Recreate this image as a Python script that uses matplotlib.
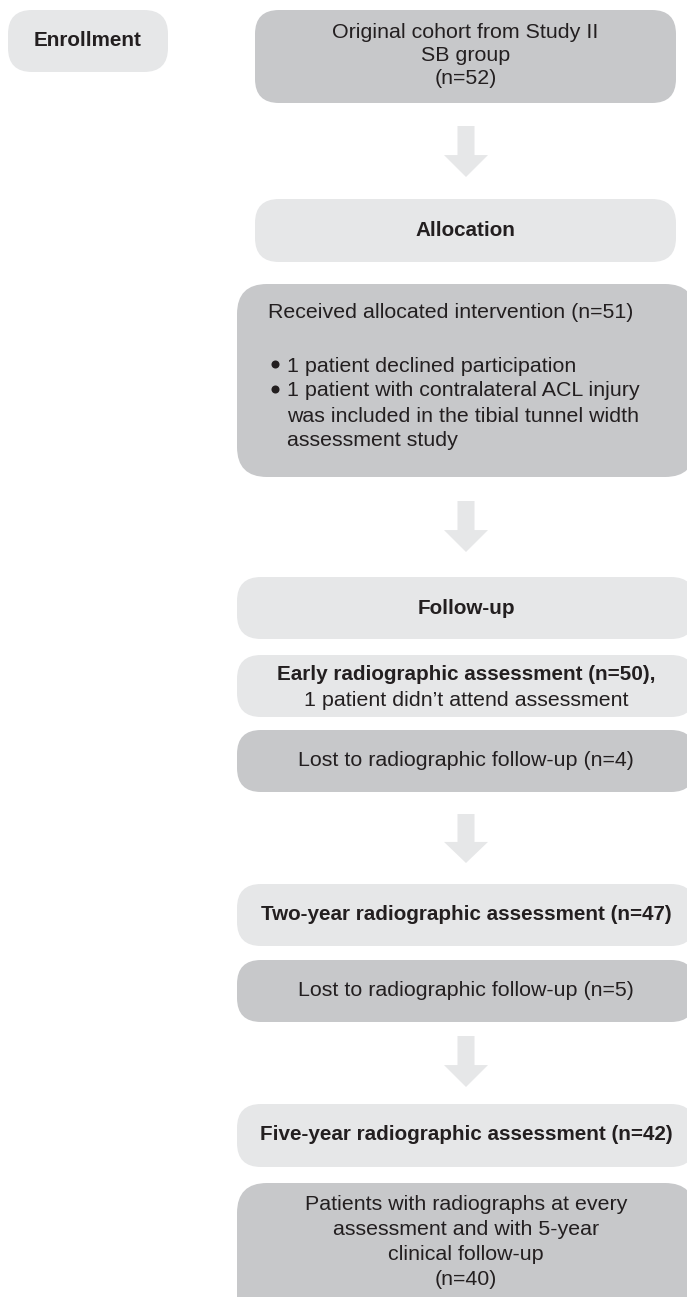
import matplotlib
matplotlib.use("Agg")
import matplotlib.pyplot as plt
from matplotlib.patches import FancyBboxPatch, Polygon

plt.rcParams['font.family'] = ['Liberation Sans', 'DejaVu Sans']

# ---- content ----
stage_label = "Enrollment"
box_texts = [
    "Original cohort from Study II\nSB group\n(n=52)",
    "Allocation",
    "Received allocated intervention (n=51)",
    "Follow-up",
    "Early radiographic assessment (n=50),\n1 patient didn\u2019t attend assessment",
    "Lost to radiographic follow-up (n=4)",
    "Two-year radiographic assessment (n=47)",
    "Lost to radiographic follow-up (n=5)",
    "Five-year radiographic assessment (n=42)",
    "Patients with radiographs at every\nassessment and with 5-year\nclinical follow-up\n(n=40)",
]
bullets = [
    "1 patient declined participation",
    "1 patient with contralateral ACL injury\nwas included in the tibial tunnel width\nassessment study",
]

# ---- layout (pixels) ----
W, H = 687, 1297
DARK = "#C7C8CA"
LIGHT = "#E6E7E8"
TXT = "#231F20"
FS = 15.4      # regular text
FSB = 14.9     # bold text

# (left, top, right, bottom, fill, bold, first line y, line step)
layout = [
    (255, 10, 676, 103, DARK, False, 32, 23.5),
    (255, 199, 676, 262, LIGHT, True, 231, 0),
    (237, 284, 695, 477, DARK, False, 313, 0),
    (237, 577, 695, 639, LIGHT, True, 609, 0),
    (237, 655, 695, 717, LIGHT, None, 675, 25),
    (237, 730, 695, 792, DARK, False, 760, 0),
    (237, 884, 695, 946, LIGHT, True, 915, 0),
    (237, 960, 695, 1022, DARK, False, 991, 0),
    (237, 1104, 695, 1167, LIGHT, True, 1135, 0),
    (237, 1183, 695, 1330, DARK, False, 1204, 25.3),
]
bullet_y = [366, 391]
bullet_step = 25
arrows = [(126, 177), (501, 552), (814, 863), (1036, 1087)]
ARROW_X = 466

fig = plt.figure(figsize=(W / 100, H / 100), dpi=100)
ax = fig.add_axes([0, 0, 1, 1])
ax.set_xlim(0, W)
ax.set_ylim(H, 0)
ax.axis("off")


def rbox(l, t, r, b, color, rad=24):
    p = FancyBboxPatch((l, t), r - l, b - t,
                       boxstyle=f"round,pad=0,rounding_size={rad}",
                       fc=color, ec="none", zorder=1)
    ax.add_patch(p)


# Enrollment box
rbox(8, 10, 168, 72, LIGHT)
ax.text(88, 41, stage_label, ha="center", va="center", fontsize=FSB,
        fontweight="bold", color=TXT)

for i, (txt, (l, t, r, b, col, bold, y0, step)) in enumerate(zip(box_texts, layout)):
    rbox(l, t, r, b, col, rad=30 if (b - t) > 100 else 24)
    cx = (l + r) / 2
    if i == 2:
        ax.text(268, y0, txt, ha="left", va="center", fontsize=FS, color=TXT)
        for y, btxt in zip(bullet_y, bullets):
            ax.plot([275], [y - 2], marker="o", ms=5.8, color=TXT,
                    mec="none", zorder=3)
            for k, line in enumerate(btxt.split("\n")):
                ax.text(287, y + k * bullet_step, line, ha="left", va="center",
                        fontsize=FS, color=TXT)
        continue
    for k, line in enumerate(txt.split("\n")):
        if bold is None:
            isb = (k == 0)
        else:
            isb = bool(bold)
        ax.text(cx, y0 + k * step, line, ha="center", va="center",
                fontsize=FSB if isb else FS,
                fontweight="bold" if isb else "normal", color=TXT)

for (y0, y1) in arrows:
    hy = y0 + (y1 - y0) * 0.57
    pts = [(ARROW_X - 8.5, y0), (ARROW_X + 8.5, y0), (ARROW_X + 8.5, hy),
           (ARROW_X + 22, hy), (ARROW_X, y1), (ARROW_X - 22, hy),
           (ARROW_X - 8.5, hy)]
    ax.add_patch(Polygon(pts, closed=True, fc=LIGHT, ec="none", zorder=1))

fig.savefig("out.png", dpi=100)
